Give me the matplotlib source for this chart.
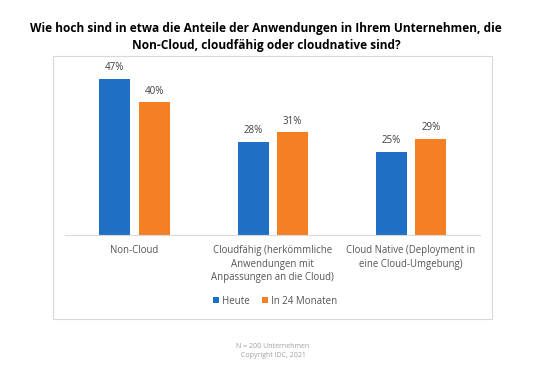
import numpy as np
import matplotlib.pyplot as plt
from matplotlib.patches import Rectangle

plt.rcParams['font.family'] = ['Open Sans', 'DejaVu Sans']

categories = ['Non-Cloud',
              'Cloudfähig (herkömmliche\nAnwendungen mit\nAnpassungen an die Cloud)',
              'Cloud Native (Deployment in\neine Cloud-Umgebung)']
heute = [47, 28, 25]
monate24 = [40, 31, 29]
series_names = ['Heute', 'In 24 Monaten']
colors = ['#1f70c4', '#f57f24']

W, H = 540, 375
fig = plt.figure(figsize=(W / 100, H / 100), dpi=100)

# light frame around the chart area
fig.patches.append(Rectangle((53 / W, 1 - 319 / H), (492 - 53) / W, (319 - 56) / H,
                             transform=fig.transFigure, fill=False,
                             edgecolor='#d9d9d9', linewidth=0.8))

ax = fig.add_axes([65 / W, 1 - 235 / H, 415 / W, 170 / H])
x = np.arange(len(categories))
w = 0.225
b1 = ax.bar(x - 0.14, heute, w, color=colors[0], label=series_names[0])
b2 = ax.bar(x + 0.145, monate24, w, color=colors[1], label=series_names[1])
for bars in (b1, b2):
    for r in bars:
        ax.annotate(f'{r.get_height():.0f}%', (r.get_x() + r.get_width() / 2, r.get_height()),
                    xytext=(0, 4), textcoords='offset points', ha='center', va='bottom',
                    fontsize=7, color='#404040')

ax.set_xlim(-0.5, 2.5)
ax.set_ylim(0, 51.2)
ax.set_yticks([])
ax.set_xticks(x)
ax.set_xticklabels(categories, fontsize=6.9, color='#555555', linespacing=1.3)
ax.tick_params(axis='x', length=0, pad=7.5)
for s in ['top', 'right', 'left']:
    ax.spines[s].set_visible(False)
ax.spines['bottom'].set_color('#d9d9d9')
ax.spines['bottom'].set_linewidth(0.8)

fig.legend(loc='center', bbox_to_anchor=(275 / W, 1 - 301 / H), ncol=2, frameon=False,
           fontsize=7, labelcolor='#555555', handlelength=0.6, handleheight=0.6,
           handletextpad=0.3, columnspacing=1.3)

fig.text(266 / W, 1 - 37 / H,
         'Wie hoch sind in etwa die Anteile der Anwendungen in Ihrem Unternehmen, die\nNon-Cloud, cloudfähig oder cloudnative sind?',
         ha='center', va='center', fontsize=8.55, fontweight='bold', color='black',
         linespacing=1.4)

fig.text(273 / W, 1 - 351 / H, 'N = 200 Unternehmen\nCopyright IDC, 2021',
         ha='center', va='center', fontsize=5, color='#a0a0a0', linespacing=1.45)

fig.savefig('out.png', dpi=100, facecolor='white')
